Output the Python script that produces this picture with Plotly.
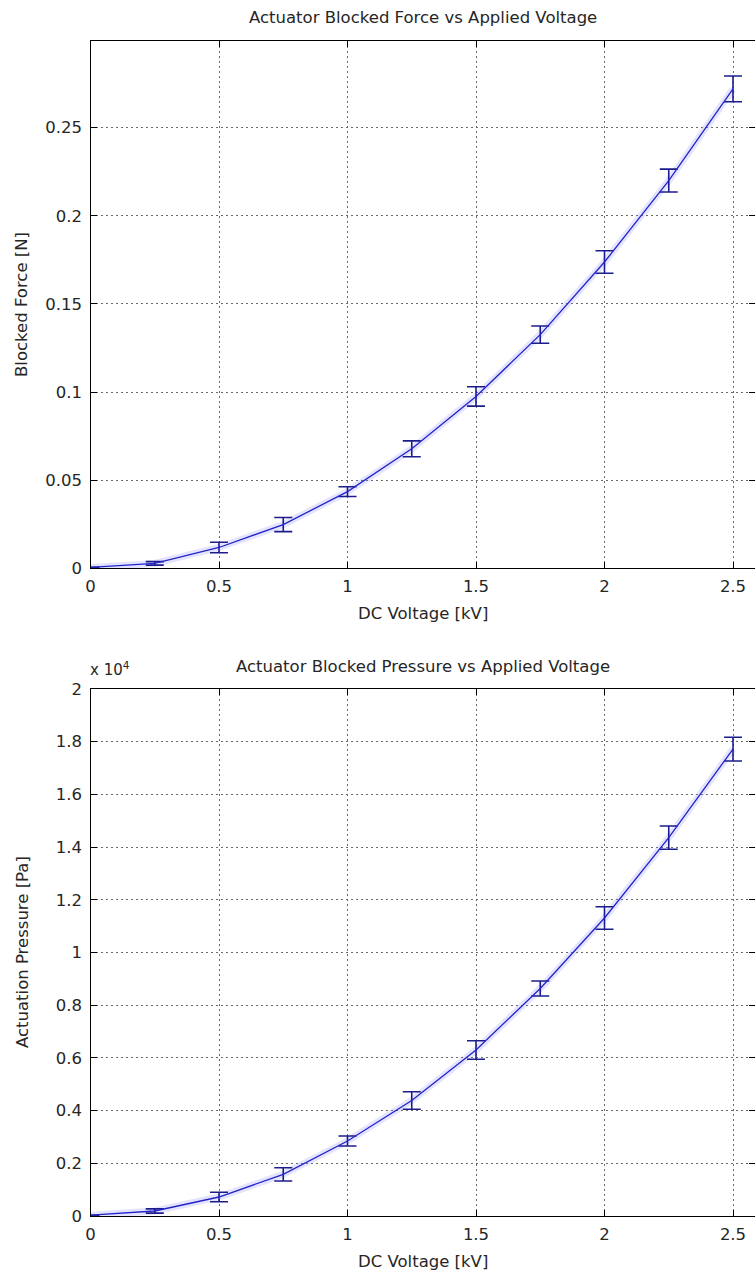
import plotly.graph_objects as go

# ---- data ----
voltage = [0, 0.25, 0.5, 0.75, 1.0, 1.25, 1.5, 1.75, 2.0, 2.25, 2.5]
force = [0.0005, 0.0028, 0.0118, 0.0248, 0.0435, 0.0678, 0.0975, 0.1326, 0.1738, 0.2200, 0.2720]
force_err = [0.0, 0.0010, 0.0030, 0.0040, 0.0028, 0.0045, 0.0055, 0.0049, 0.0064, 0.0065, 0.0073]
pressure = [30, 190, 721, 1580, 2846, 4383, 6300, 8634, 11309, 14358, 17720]
pressure_err = [0, 80, 178, 250, 190, 334, 350, 285, 429, 442, 450]

x_ticks = [0, 0.5, 1, 1.5, 2, 2.5]
x_ticktext = ["0", "0.5", "1", "1.5", "2", "2.5"]
f_ticks = [0, 0.05, 0.1, 0.15, 0.2, 0.25]
f_ticktext = ["0", "0.05", "0.1", "0.15", "0.2", "0.25"]
p_ticks = [0, 2000, 4000, 6000, 8000, 10000, 12000, 14000, 16000, 18000, 20000]
p_ticktext = ["0", "0.2", "0.4", "0.6", "0.8", "1", "1.2", "1.4", "1.6", "1.8", "2"]

W, H = 755, 1277
FONT = "DejaVu Sans"
TXT = "#262626"
LINE = "#2323c8"
ERR = "#1c1c8c"
HALO = "rgba(130,130,255,0.22)"
GRID = "#6a6a6a"

fig = go.Figure()

def add_series(xref, yref, y, err):
    fig.add_trace(go.Scatter(x=voltage, y=y, mode="lines", xaxis=xref, yaxis=yref,
                             line=dict(color=HALO, width=7), hoverinfo="skip", showlegend=False))
    fig.add_trace(go.Scatter(x=voltage, y=y, mode="lines", xaxis=xref, yaxis=yref,
                             line=dict(color=LINE, width=1.3),
                             error_y=dict(type="data", array=err, visible=True,
                                          color=ERR, thickness=1.6, width=9),
                             showlegend=False))

add_series("x", "y", force, force_err)
add_series("x2", "y2", pressure, pressure_err)

xr = [0, (W - 90.5) / 257.0]
xdom = [90.5 / W, 1.0]
ydom1 = [1 - 568.3 / H, 1 - 41 / H]
ydom2 = [1 - 1216 / H, 1 - 689 / H]

tickfont = dict(family=FONT, size=16.5, color=TXT)

def xaxis(anchor):
    return dict(domain=xdom, anchor=anchor, range=xr, tickvals=x_ticks, ticktext=x_ticktext,
                showline=True, linecolor="black", linewidth=1.2, mirror="ticks",
                ticks="inside", ticklen=6, tickcolor="black", tickwidth=1,
                showgrid=True, gridcolor=GRID, griddash="2px,3px", gridwidth=1,
                zeroline=False, tickfont=tickfont, ticklabelstandoff=3, automargin=False)

def yaxis(anchor, dom, rng, tv, tt):
    return dict(domain=dom, anchor=anchor, range=rng, tickvals=tv, ticktext=tt,
                showline=True, linecolor="black", linewidth=1.2, mirror=False,
                ticks="inside", ticklen=6, tickcolor="black", tickwidth=1,
                showgrid=True, gridcolor=GRID, griddash="2px,3px", gridwidth=1,
                zeroline=False, tickfont=tickfont, ticklabelstandoff=4, automargin=False)

def yright(anchor, over, rng, tv):
    return dict(overlaying=over, anchor=anchor, side="right", range=rng, tickvals=tv,
                showticklabels=False, showline=False, showgrid=False, zeroline=False,
                ticks="inside", ticklen=6, tickcolor="black", tickwidth=1)

frange = [0, 0.2992]
prange = [0, 20000]

fig.update_layout(
    width=W, height=H, margin=dict(l=0, r=0, t=0, b=0),
    paper_bgcolor="white", plot_bgcolor="white", showlegend=False,
    xaxis=xaxis("y"),
    yaxis=yaxis("x", ydom1, frange, f_ticks, f_ticktext),
    xaxis2=xaxis("y2"),
    yaxis2=yaxis("x2", ydom2, prange, p_ticks, p_ticktext),
    yaxis3=yright("x", "y", frange, f_ticks),
    yaxis4=yright("x2", "y2", prange, p_ticks),
)
# empty traces so the right-hand tick axes render
fig.add_trace(go.Scatter(x=[None], y=[None], xaxis="x", yaxis="y3", showlegend=False))
fig.add_trace(go.Scatter(x=[None], y=[None], xaxis="x2", yaxis="y4", showlegend=False))

tfont = dict(family=FONT, size=16.5, color=TXT)
ann = [
    dict(text="Actuator Blocked Force vs Applied Voltage", x=423 / W, y=1 - 18 / H),
    dict(text="Actuator Blocked Pressure vs Applied Voltage", x=423 / W, y=1 - 666 / H),
    dict(text="DC Voltage [kV]", x=423 / W, y=1 - 613 / H),
    dict(text="DC Voltage [kV]", x=423 / W, y=1 - 1261 / H),
    dict(text="Blocked Force [N]", x=22 / W, y=1 - 305 / H, textangle=-90),
    dict(text="Actuation Pressure [Pa]", x=22 / W, y=1 - 952 / H, textangle=-90),
]
for a in ann:
    fig.add_annotation(xref="paper", yref="paper", showarrow=False, font=tfont,
                       xanchor="center", yanchor="middle", **a)
fig.add_annotation(xref="paper", yref="paper", showarrow=False,
                   font=dict(family=FONT, size=15, color=TXT),
                   text="x 10<sup>4</sup>", x=88 / W, y=1 - 669 / H, xanchor="left", yanchor="middle")

fig.write_html("out.html")
